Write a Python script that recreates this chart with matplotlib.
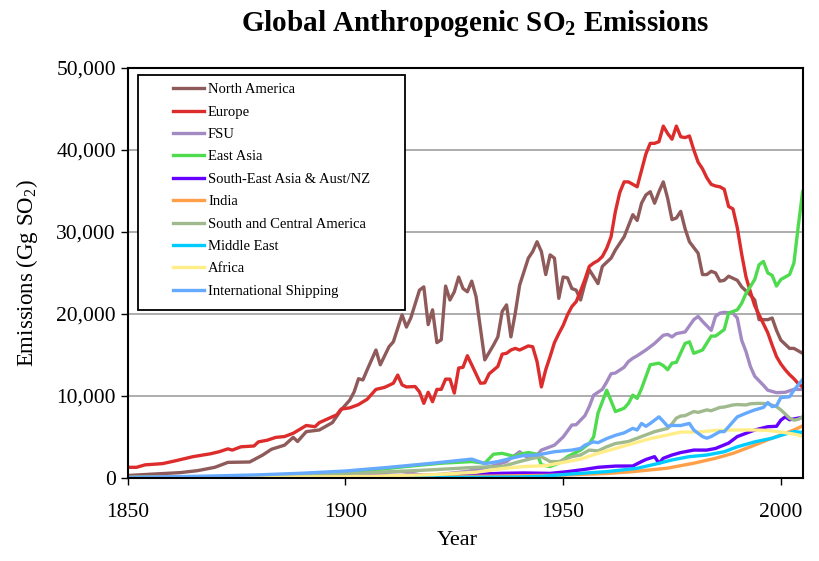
import matplotlib
matplotlib.use("Agg")
import matplotlib.pyplot as plt
from matplotlib.patches import Rectangle
from matplotlib.ticker import FuncFormatter

# values (Gg SO2)
na_years = [1850, 1856, 1862, 1866, 1870, 1873, 1878, 1881, 1883, 1886, 1888, 1889, 1891, 1894, 1897, 1899,
            1901, 1902, 1903, 1904, 1905, 1906, 1907, 1908, 1910, 1911, 1913, 1914, 1915, 1917, 1918, 1919,
            1920, 1921, 1922, 1923, 1924, 1925, 1926, 1927, 1928, 1929, 1930, 1932, 1934, 1935, 1936, 1937,
            1938, 1939, 1940, 1942, 1943, 1944, 1945, 1946, 1947, 1948, 1949, 1950, 1951, 1952, 1953, 1954,
            1955, 1956, 1958, 1959, 1961, 1962, 1964, 1966, 1967, 1968, 1969, 1970, 1971, 1972, 1973, 1974,
            1975, 1976, 1977, 1978, 1979, 1981, 1982, 1983, 1984, 1985, 1986, 1987, 1988, 1990, 1991, 1993,
            1994, 1995, 1997, 1998, 1999, 2000, 2002, 2003, 2005]
na_vals = [300, 480, 650, 890, 1300, 1900, 1950, 2800, 3500, 4000, 4950, 4450, 5650, 5850, 6750, 8300,
           9500, 10500, 12100, 11950, 13200, 14400, 15600, 13800, 16000, 16600, 19900, 18400, 19500, 22900, 23300, 18700,
           20500, 16500, 16850, 23400, 21700, 22700, 24500, 23100, 22700, 24000, 22100, 14400, 16200, 17200, 20300, 21100,
           17200, 20100, 23500, 26800, 27600, 28800, 27600, 24800, 27200, 26800, 21900, 24500, 24400, 23100, 22900, 21700,
           23700, 25400, 23700, 25800, 26800, 27800, 29400, 32100, 31400, 33500, 34500, 34900, 33500, 34900, 36100, 34100,
           31500, 31700, 32500, 30400, 28800, 27400, 24800, 24800, 25200, 25000, 24000, 24100, 24600, 24100, 23300, 22300,
           21700, 19300, 19300, 19500, 18000, 16800, 15800, 15800, 15200]

eu_years = [1850, 1852, 1854, 1858, 1861, 1865, 1869, 1871, 1873, 1874, 1876, 1879, 1880, 1882, 1884, 1886,
            1888, 1891, 1893, 1894, 1898, 1899, 1901, 1903, 1905, 1907, 1909, 1911, 1912, 1913, 1914, 1916,
            1917, 1918, 1919, 1920, 1921, 1922, 1923, 1924, 1925, 1926, 1927, 1928, 1929, 1931, 1932, 1933,
            1935, 1936, 1937, 1938, 1939, 1940, 1942, 1943, 1944, 1945, 1946, 1947, 1948, 1949, 1950, 1951,
            1952, 1953, 1954, 1955, 1956, 1957, 1958, 1959, 1960, 1961, 1962, 1963, 1964, 1965, 1966, 1967,
            1968, 1969, 1970, 1971, 1972, 1973, 1974, 1975, 1976, 1977, 1978, 1979, 1980, 1981, 1982, 1983,
            1984, 1985, 1986, 1987, 1988, 1989, 1990, 1991, 1992, 1993, 1994, 1995, 1996, 1997, 1998, 1999,
            2000, 2001, 2002, 2003, 2004, 2005]
eu_vals = [1300, 1300, 1600, 1750, 2100, 2600, 2950, 3200, 3550, 3400, 3800, 3900, 4400, 4600, 4950, 5050,
           5450, 6400, 6250, 6750, 7700, 8400, 8550, 8950, 9600, 10800, 11050, 11550, 12550, 11350, 11100, 11150,
           10500, 9100, 10450, 9300, 10800, 10800, 12050, 12050, 10350, 13400, 13500, 14900, 13800, 11550, 11600, 12700,
           13600, 15100, 15200, 15600, 15800, 15600, 16100, 16000, 14200, 11100, 13200, 14800, 16500, 17600, 18600, 19900,
           20900, 21500, 22800, 24200, 25800, 26200, 26500, 27000, 28000, 29400, 32500, 34800, 36100, 36100, 35800, 35500,
           37500, 39500, 40800, 40800, 41000, 42900, 42000, 41300, 42900, 41600, 41500, 41700, 40000, 38500, 37700, 36600,
           35800, 35600, 35500, 35200, 33100, 32800, 30500, 27300, 24500, 22700, 21000, 19900, 18800, 17700, 16200, 14800,
           13900, 13200, 12600, 12100, 11500, 11100]

fsu_years = [1850, 1870, 1890, 1900, 1913, 1918, 1922, 1928, 1931, 1934, 1937, 1940, 1942, 1944, 1945, 1947,
             1948, 1950, 1952, 1953, 1955, 1956, 1957, 1959, 1960, 1961, 1962, 1964, 1965, 1966, 1967, 1969,
             1971, 1973, 1974, 1975, 1976, 1978, 1980, 1981, 1982, 1984, 1985, 1986, 1987, 1989, 1990, 1991,
             1992, 1993, 1994, 1996, 1997, 1999, 2001, 2003, 2005]
fsu_vals = [50, 100, 250, 400, 800, 300, 450, 800, 1100, 1500, 2000, 3200, 2400, 2800, 3400, 3800,
            4000, 5000, 6450, 6500, 7600, 8700, 10100, 10800, 11700, 12700, 12800, 13500, 14200, 14600, 14900, 15600,
            16400, 17400, 17500, 17200, 17600, 17800, 19300, 19700, 19100, 18000, 19700, 20100, 20200, 20100, 19500, 16800,
            15400, 13600, 12400, 11300, 10700, 10400, 10450, 10800, 10800]

ea_years = [1850, 1870, 1885, 1895, 1899, 1906, 1914, 1922, 1929, 1932, 1934, 1936, 1939, 1940, 1942, 1944,
            1945, 1947, 1949, 1951, 1954, 1956, 1957, 1958, 1960, 1962, 1964, 1965, 1966, 1967, 1968, 1970,
            1972, 1973, 1974, 1975, 1976, 1978, 1979, 1980, 1982, 1984, 1985, 1987, 1988, 1990, 1991, 1992,
            1994, 1995, 1996, 1997, 1998, 1999, 2000, 2002, 2003, 2004, 2005]
ea_vals = [50, 150, 300, 500, 600, 950, 1400, 1800, 2000, 1800, 2900, 3000, 2600, 2900, 3100, 2900,
           1600, 1400, 1800, 2600, 3400, 4200, 5000, 7900, 10700, 8100, 8500, 9100, 10100, 9700, 10900, 13800,
           14000, 13700, 13200, 14000, 14100, 16400, 16600, 15200, 15600, 17300, 17300, 18100, 20100, 20500, 21300, 22500,
           24200, 26000, 26400, 25000, 24700, 23400, 24200, 24800, 26200, 30700, 34900]

sea_years = [1850, 1880, 1900, 1920, 1930, 1936, 1941, 1947, 1951, 1955, 1958, 1962, 1966, 1968, 1969, 1971,
             1972, 1973, 1975, 1977, 1980, 1983, 1985, 1988, 1990, 1992, 1994, 1997, 1999, 2000, 2001, 2002,
             2004, 2005]
sea_vals = [20, 80, 200, 350, 450, 570, 610, 560, 770, 1050, 1300, 1450, 1460, 2000, 2250, 2600,
            1800, 2400, 2800, 3100, 3400, 3400, 3600, 4250, 5050, 5450, 5850, 6250, 6300, 7050, 7450, 7100,
            7300, 7400]

ind_years = [1850, 1900, 1930, 1950, 1960, 1966, 1974, 1980, 1985, 1989, 1993, 1997, 2001, 2003, 2005]
ind_vals = [10, 100, 200, 350, 550, 770, 1200, 1800, 2400, 3000, 3800, 4650, 5450, 5850, 6350]

sca_years = [1850, 1880, 1900, 1920, 1930, 1936, 1940, 1943, 1945, 1947, 1949, 1952, 1954, 1956, 1958, 1960,
             1962, 1965, 1967, 1969, 1971, 1974, 1975, 1976, 1977, 1978, 1980, 1981, 1983, 1984, 1986, 1987,
             1989, 1990, 1992, 1993, 1995, 1997, 1999, 2000, 2002, 2003, 2004, 2005]
sca_vals = [100, 200, 500, 1000, 1300, 1400, 2000, 2400, 2600, 2000, 2000, 2600, 2800, 3400, 3300, 3800,
            4200, 4450, 4850, 5250, 5650, 6050, 6600, 7300, 7550, 7600, 8100, 8000, 8300, 8200, 8600, 8650,
            8900, 8950, 8900, 9050, 9100, 9050, 8700, 8300, 7300, 7050, 7150, 7450]

me_years = [1850, 1900, 1930, 1940, 1945, 1952, 1960, 1967, 1972, 1975, 1979, 1983, 1987, 1990, 1994, 1998,
            2001, 2003, 2005]
me_vals = [0, 20, 80, 120, 200, 490, 770, 1180, 1790, 2200, 2600, 2800, 3200, 3800, 4400, 4850,
           5350, 5650, 5550]

af_years = [1850, 1900, 1920, 1930, 1936, 1941, 1946, 1951, 1954, 1958, 1962, 1966, 1970, 1974, 1977, 1981,
            1985, 1990, 1994, 1997, 2000, 2003, 2005]
af_vals = [20, 150, 400, 700, 1150, 1400, 1500, 2000, 2300, 3000, 3600, 4200, 4800, 5250, 5600, 5600,
           5800, 5850, 5850, 5800, 5600, 5350, 5100]

sh_years = [1850, 1870, 1880, 1890, 1900, 1910, 1920, 1929, 1932, 1935, 1938, 1941, 1944, 1948, 1952, 1954,
            1955, 1957, 1958, 1960, 1962, 1963, 1964, 1966, 1967, 1968, 1969, 1970, 1972, 1973, 1974, 1975,
            1977, 1979, 1980, 1982, 1983, 1984, 1986, 1987, 1988, 1990, 1992, 1994, 1996, 1997, 1998, 1999,
            2000, 2002, 2003, 2005]
sh_vals = [50, 250, 380, 580, 850, 1300, 1800, 2300, 1750, 1990, 2400, 2750, 2800, 3200, 3400, 3600,
           4000, 4400, 4300, 4800, 5200, 5350, 5500, 6050, 5850, 6650, 6300, 6650, 7450, 6900, 6300, 6400,
           6400, 6650, 5850, 5050, 4850, 5050, 5650, 5650, 6250, 7450, 7900, 8300, 8600, 9200, 8700, 8800,
           9800, 9900, 10700, 12000]

series = [
    ("North America", na_years, na_vals, "#8E5A5A"),
    ("Europe", eu_years, eu_vals, "#DD2C2C"),
    ("FSU", fsu_years, fsu_vals, "#A48AC2"),
    ("East Asia", ea_years, ea_vals, "#4EDB4E"),
    ("South-East Asia & Aust/NZ", sea_years, sea_vals, "#6600FF"),
    ("India", ind_years, ind_vals, "#FFA048"),
    ("South and Central America", sca_years, sca_vals, "#A0BA8E"),
    ("Middle East", me_years, me_vals, "#00CCFF"),
    ("Africa", af_years, af_vals, "#FFEE88"),
    ("International Shipping", sh_years, sh_vals, "#66AAFF"),
]


def main():
    plt.rcParams["font.family"] = ["Liberation Serif", "DejaVu Serif"]
    plt.rcParams["mathtext.fontset"] = "custom"
    plt.rcParams["mathtext.rm"] = "Liberation Serif"
    plt.rcParams["mathtext.bf"] = "Liberation Serif:bold"

    fig = plt.figure(figsize=(8.19, 5.61), dpi=100)
    ax = fig.add_axes([0.156, 0.148, 0.824, 0.731])

    # gridlines behind the data
    ax.set_axisbelow(True)
    ax.yaxis.grid(True, color="#A0A0A0", linewidth=1.2)

    for name, yrs, vals, col in series:
        ax.plot(yrs, vals, color=col, linewidth=2.4, label=name)

    ax.set_xlim(1850, 2005)
    ax.set_ylim(0, 50000)
    ax.set_xticks([1850, 1900, 1950, 2000])
    ax.set_yticks(range(0, 50001, 10000))
    ax.yaxis.set_major_formatter(FuncFormatter(lambda v, p: f"{int(v):,}"))
    ax.tick_params(labelsize=15.5, length=5, width=1, direction="out")
    ax.tick_params(axis="x", pad=13)

    for sp in ax.spines.values():
        sp.set_linewidth(1.5)

    ax.set_xlabel("Year", fontsize=16)
    ax.xaxis.set_label_coords(0.488, -0.13)
    ax.set_ylabel(r"Emissions (Gg SO$_2$)", fontsize=16.5, labelpad=12)
    fig.suptitle(r"Global Anthropogenic SO$_\mathbf{2}$ Emissions", fontsize=21,
                 fontweight="bold", x=0.58, y=0.985)

    # legend box drawn separately so it can be wider than the text
    box = Rectangle((0.0148, 0.41), 0.3964, 0.573, transform=ax.transAxes,
                    facecolor="white", edgecolor="black", linewidth=1.3, zorder=4)
    ax.add_patch(box)
    leg = ax.legend(loc="upper left", bbox_to_anchor=(0.0676, 0.963), fontsize=10.5,
                    frameon=False, handlelength=2.1, handletextpad=0.28,
                    labelspacing=0.63, borderpad=0, borderaxespad=0)
    leg.set_zorder(5)

    fig.savefig("out.png", dpi=100)


if __name__ == "__main__":
    main()
